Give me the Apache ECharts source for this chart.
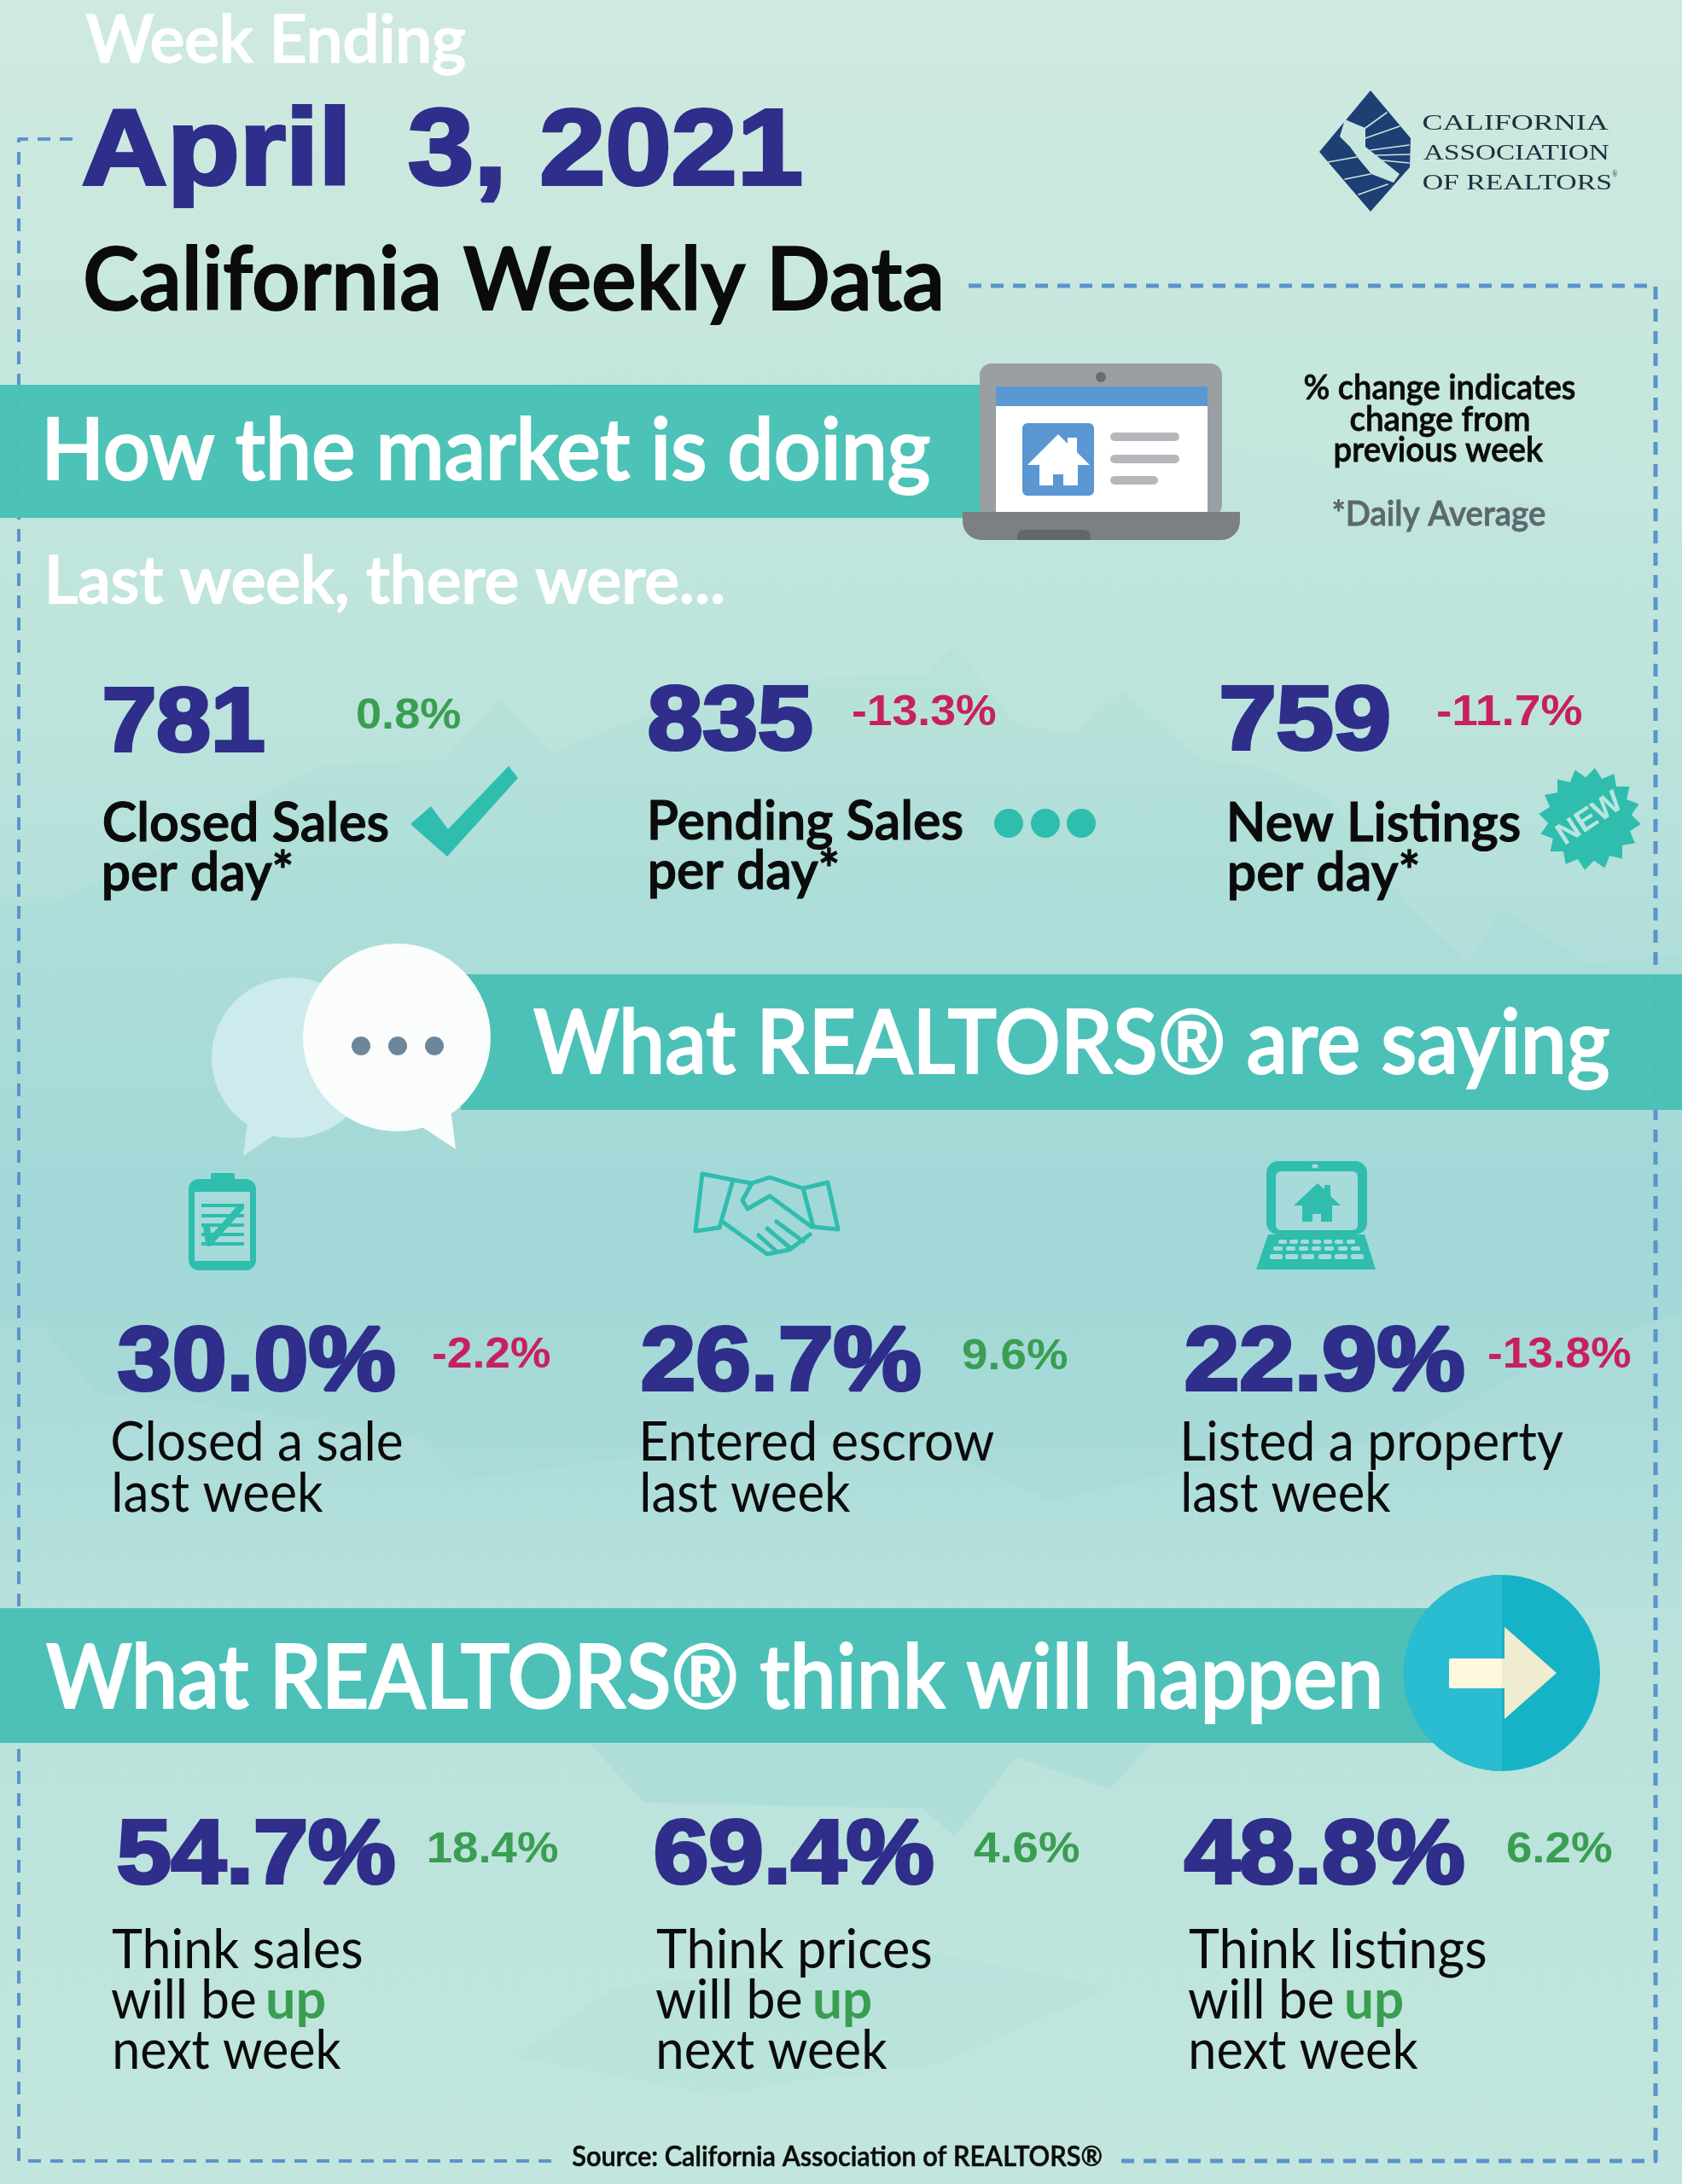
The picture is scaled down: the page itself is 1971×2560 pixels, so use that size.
<!DOCTYPE html>
<html>
<head>
<meta charset="utf-8">
<title>California Weekly Data</title>
<script src="https://cdn.jsdelivr.net/npm/echarts@6/dist/echarts.min.js"></script>
<style>
    html, body { margin: 0; padding: 0; background: #c6e7de; }
    #chart { width: 1971px; height: 2560px; }
</style>
</head>
<body>
<div id="chart"></div>
<script>
// Values
var marketValues   = [781, 835, 759];
var marketChanges  = [0.8, -13.3, -11.7];
var marketLabels   = [['Closed Sales', 'per day*'], ['Pending Sales', 'per day*'], ['New Listings', 'per day*']];
var sayingValues   = [30.0, 26.7, 22.9];
var sayingChanges  = [-2.2, 9.6, -13.8];
var sayingLabels   = [['Closed a sale', 'last week'], ['Entered escrow', 'last week'], ['Listed a property', 'last week']];
var thinkValues    = [54.7, 69.4, 48.8];
var thinkChanges   = [18.4, 4.6, 6.2];
var thinkLabels    = ['Think sales', 'Think prices', 'Think listings'];

// Where each text sits: [left ink, right ink, baseline]
var marketValueBox  = [[122, 310, 880], [760, 952, 878], [1431, 1628, 878]];
var marketChangeBox = [[418, 540, 854], [999, 1167, 850], [1684, 1854, 850]];
var marketLabelBox  = [[[121, 455, 986], [122, 342, 1044]],
                       [[762, 1128, 984], [762, 982, 1042]],
                       [[1441, 1781, 986], [1441, 1662, 1044]]];
var sayingValueBox  = [[138, 463, 1629], [752, 1079, 1629], [1389, 1716, 1629]];
var sayingChangeBox = [[507, 645, 1603], [1128, 1251, 1605], [1744, 1911, 1603]];
var sayingLabelBox  = [[[132, 471, 1712], [134, 379, 1772]],
                       [[753, 1165, 1712], [753, 997, 1772]],
                       [[1387, 1832, 1712], [1387, 1630, 1772]]];
var thinkValueBox   = [[138, 463, 2207], [767, 1094, 2207], [1387, 1716, 2207]];
var thinkChangeBox  = [[503, 654, 2183], [1141, 1265, 2183], [1766, 1889, 2183]];
var thinkLineBox    = [[[131, 424, 2307], [131, 299, 2366], [314, 381, 2366], [135, 400, 2425]],
                       [[769, 1091, 2307], [769, 939, 2366], [955, 1021, 2366], [772, 1040, 2425]],
                       [[1393, 1741, 2307], [1393, 1562, 2366], [1578, 1644, 2366], [1396, 1662, 2425]]];

var NAVY = '#2f2e8b', GREEN = '#3a9e52', RED = '#c8205f', TEAL = '#2fbdae', BANNER = 'rgba(73,192,182,0.97)';
var LATO = 'Lato, "Noto Sans", sans-serif';
var HEAVY = '"Liberation Sans", Arial, sans-serif';

var measure = document.createElement('canvas').getContext('2d');
var els = [];

// Places a string so its ink runs from x0 to x1 and it stands on the baseline.
function fit(text, x0, x1, baseline, font, fill, strokeW) {
    var w = strokeW || 0;
    measure.font = font;
    measure.textBaseline = 'alphabetic';
    var m = measure.measureText(text);
    var ink = m.actualBoundingBoxRight + m.actualBoundingBoxLeft;
    var sx = (x1 - x0 - w) / ink;
    measure.textBaseline = 'middle';
    var drop = measure.measureText('H').actualBoundingBoxDescent;
    els.push({
        type: 'text', silent: true,
        x: x0 + w / 2 + m.actualBoundingBoxLeft * sx,
        y: baseline - drop,
        scaleX: sx,
        style: {
            text: text, font: font, fill: fill, align: 'left', verticalAlign: 'middle',
            stroke: w ? fill : null, lineWidth: w
        }
    });
}

function poly(points, fill) {
    els.push({ type: 'polygon', silent: true, shape: { points: points }, style: { fill: fill } });
}
function line(points, stroke, width, dash, smooth) {
    els.push({
        type: 'polyline', silent: true,
        shape: { points: points, smooth: smooth || 0 },
        style: { stroke: stroke, lineWidth: width, fill: 'none', lineDash: dash || null, lineCap: dash ? 'butt' : 'round', lineJoin: 'round' }
    });
}
function rect(x, y, w, h, fill, r) {
    els.push({ type: 'rect', silent: true, shape: { x: x, y: y, width: w, height: h, r: r || 0 }, style: { fill: fill } });
}
function circle(cx, cy, r, fill) {
    els.push({ type: 'circle', silent: true, shape: { cx: cx, cy: cy, r: r }, style: { fill: fill } });
}

function drawBackground() {
    els.push({
        type: 'rect', silent: true,
        shape: { x: 0, y: 0, width: 1971, height: 2560 },
        style: {
            fill: new echarts.graphic.LinearGradient(0, 0, 0, 1, [
                { offset: 0,    color: '#cfe9df' },
                { offset: 0.17, color: '#c6e7de' },
                { offset: 0.32, color: '#bfe5dd' },
                { offset: 0.43, color: '#b4e0dc' },
                { offset: 0.56, color: '#a7dbdb' },
                { offset: 0.66, color: '#aedddb' },
                { offset: 0.74, color: '#bae3dc' },
                { offset: 0.85, color: '#bfe5dd' },
                { offset: 1,    color: '#c4e7de' }
            ])
        }
    });
    var tint = 'rgba(110,200,205,0.08)';
    poly([[0, 470], [600, 470], [760, 402], [850, 450], [980, 386], [1106, 386], [1170, 460], [1450, 530], [1700, 560],
          [1971, 640], [1971, 2560], [0, 2560]], 'rgba(150,215,210,0.05)');
    poly([[0, 1060], [60, 1060], [377, 898], [520, 890], [585, 819], [647, 882], [860, 800], [1085, 790], [1119, 755],
          [1190, 850], [1260, 860], [1314, 809], [1408, 890], [1480, 900], [1559, 937], [1650, 1060], [1720, 1130],
          [1760, 1064], [1860, 1130], [1971, 1120], [1971, 1538], [1800, 1600], [1647, 1684], [1400, 1720], [1232, 1759],
          [1100, 1700], [993, 1680], [800, 1700], [540, 1735], [490, 1684], [226, 1644], [113, 1633], [50, 1555], [0, 1555]], tint);
    poly([[691, 2044], [754, 2113], [1081, 2120], [1119, 2153], [1190, 2060], [1300, 2097], [1350, 2044]], 'rgba(110,200,205,0.16)');
    poly([[603, 2410], [720, 2330], [1100, 2290], [1300, 2330], [1100, 2420], [930, 2440], [842, 2457]], 'rgba(110,200,205,0.06)');
}

function drawFrame() {
    var c = '#5b93cc', d = [15, 11];
    line([[85, 163], [22, 163], [22, 2533], [647, 2533]], c, 4, d);
    line([[1135, 335], [1940, 335], [1940, 2533], [1307, 2533]], c, 5, d);
}

function drawLaptop() {
    rect(1148, 426, 284, 180, '#9a9fa3', 14);
    rect(1167, 453, 248, 150, '#ffffff');
    rect(1167, 453, 248, 23, '#5b97d3');
    circle(1290, 442, 6, '#676c70');
    rect(1198, 496, 84, 85, '#5b97d3', 6);
    poly([[1240, 509], [1251, 520], [1251, 513], [1262, 513], [1262, 530], [1277, 545], [1263, 545], [1263, 569],
          [1246, 569], [1246, 556], [1234, 556], [1234, 569], [1218, 569], [1218, 545], [1204, 545]], '#ffffff');
    rect(1301, 507, 81, 10, '#b4b8bd', 5);
    rect(1301, 533, 81, 10, '#b4b8bd', 5);
    rect(1301, 558, 56, 10, '#b4b8bd', 5);
    els.push({ type: 'rect', silent: true, shape: { x: 1128, y: 600, width: 325, height: 33, r: [0, 0, 22, 22] }, style: { fill: '#7b8084' } });
    els.push({ type: 'rect', silent: true, shape: { x: 1192, y: 621, width: 86, height: 12, r: [8, 8, 0, 0] }, style: { fill: '#62676b' } });
}

function drawLogo() {
    var blue = '#1d3f73', bg = '#c7e7de';
    poly([[1606, 106], [1653, 162], [1652, 196], [1636, 214], [1606, 248], [1546, 178]], blue);
    // California as a thin light band between the left blocks and the fan
    poly([[1576, 140], [1590, 146], [1600, 150], [1600, 172], [1640, 204], [1633, 214], [1607, 204], [1592, 186],
          [1582, 172], [1570, 160]], bg);
    var gaps = [[[1600, 150], [1625, 132]], [[1600, 162], [1640, 148]], [[1606, 176], [1651, 170]], [[1612, 182], [1652, 181]],
                [[1620, 188], [1651, 191]], [[1556, 190], [1590, 184]], [[1576, 210], [1606, 204]], [[1592, 228], [1626, 216]]];
    gaps.forEach(function (g) { line(g, bg, 1.6); });
    var serif = '26px "Liberation Serif", serif';
    fit('CALIFORNIA', 1668, 1885, 152, serif, '#20303f');
    fit('ASSOCIATION', 1668, 1886, 187, serif, '#20303f');
    fit('OF REALTORS', 1668, 1887, 222, serif, '#20303f');
    fit('®', 1889, 1896, 207, '10px "Liberation Serif", serif', '#20303f');
}

function drawBubbles() {
    circle(342, 1240, 94, '#cdebec');
    poly([[290, 1315], [285, 1355], [322, 1330]], '#cdebec');
    circle(465, 1216, 110, '#fbfcfc');
    poly([[528, 1300], [534, 1347], [490, 1318]], '#fbfcfc');
    [423, 466, 509].forEach(function (x) { circle(x, 1226, 11, '#6c8799'); });
}

function drawBurst() {
    // 16 point seal behind the NEW lettering
    var pts = [], spikes = 16;
    for (var i = 0; i < spikes * 2; i++) {
        var a = i * Math.PI / spikes - Math.PI / 2 + Math.PI / spikes / 2;
        var r = i % 2 ? 49 : 60;
        pts.push([1863 + r * Math.cos(a), 960 + r * Math.sin(a)]);
    }
    poly(pts, TEAL);
    els.push({
        type: 'text', silent: true, x: 1863, y: 960, rotation: 0.58,
        style: { text: 'NEW', font: 'bold 36px "Liberation Sans", sans-serif', fill: '#b8e6de', align: 'center', verticalAlign: 'middle' }
    });
}

function drawIcons() {
    // check mark and three dots of the first row
    poly([[481, 966], [505, 945], [525, 972], [596, 898], [607, 912], [524, 1004]], TEAL);
    [1182, 1225, 1267].forEach(function (x) { circle(x, 965, 17, TEAL); });
    drawBurst();

    // clipboard
    rect(221, 1382, 79, 107, TEAL, 12);
    rect(228, 1397, 65, 81, '#a6dadb');
    rect(247, 1375, 28, 22, TEAL, 2);
    [1413, 1425, 1436, 1447, 1458].forEach(function (y) { rect(236, y - 2, 50, 4, TEAL); });
    line([[242, 1438], [245, 1457], [282, 1415]], TEAL, 8);

    // handshake
    var w = 5;
    line([[823, 1376], [859, 1383], [843, 1439], [815, 1443], [823, 1376]], TEAL, w);
    line([[941, 1393], [970, 1386], [982, 1441], [953, 1438], [941, 1393]], TEAL, w);
    line([[859, 1383], [881, 1387], [902, 1380], [941, 1393]], TEAL, w);
    line([[881, 1387], [870, 1407], [876, 1417], [902, 1402], [951, 1438]], TEAL, w);
    line([[848, 1433], [899, 1470], [925, 1465], [949, 1447]], TEAL, w);
    line([[910, 1432], [941, 1455]], TEAL, w);
    line([[899, 1440], [925, 1462]], TEAL, w);
    line([[889, 1448], [910, 1467]], TEAL, w);

    // small laptop
    rect(1484, 1361, 118, 86, TEAL, 14);
    rect(1495, 1373, 96, 69, '#a6dadb', 6);
    els.push({ type: 'ellipse', silent: true, shape: { cx: 1541, cy: 1367, rx: 4, ry: 2.5 }, style: { fill: '#a6dadb' } });
    poly([[1486, 1447], [1599, 1447], [1612, 1488], [1472, 1488]], TEAL);
    poly([[1544, 1387], [1552, 1394], [1552, 1389], [1559, 1389], [1559, 1402], [1571, 1413], [1561, 1413], [1561, 1432],
          [1548, 1432], [1548, 1423], [1538, 1423], [1538, 1432], [1526, 1432], [1526, 1413], [1516, 1413]], TEAL);
    [1503, 1516, 1529, 1543, 1556, 1569, 1583].forEach(function (x) { rect(x - 5, 1453, 10, 5, '#a6dadb', 2); });
    [1497, 1512, 1527, 1542, 1557, 1573, 1588].forEach(function (x) { rect(x - 5, 1461, 11, 5, '#a6dadb', 2); });
    [1495, 1513, 1532, 1552, 1571, 1590].forEach(function (x) { rect(x - 7, 1470, 15, 6, '#a6dadb', 2); });
}

function drawArrow() {
    circle(1760, 1961, 115, '#16b3c6');
    els.push({
        type: 'sector', silent: true,
        shape: { cx: 1760, cy: 1961, r: 115, startAngle: Math.PI / 2, endAngle: Math.PI * 1.5 },
        style: { fill: '#2abcd1' }
    });
    rect(1698, 1944, 62, 35, '#fef8dc', 2);
    poly([[1760, 1944], [1763, 1944], [1763, 1907], [1824, 1961], [1763, 2015], [1763, 1979], [1760, 1979]], '#efecd0');
}

function drawText() {
    var semi = '600 64px ' + LATO, reg = '400 64px ' + LATO;
    var big = '900 105px ' + HEAVY, small = '900 50px ' + HEAVY;

    fit('Week Ending', 100, 546, 73, '600 76px ' + LATO, '#ffffff', 1.6);
    fit('April\u2009 3, 2021', 97, 940, 216, '900 127px ' + HEAVY, NAVY, 4);
    fit('California Weekly Data', 100, 1103, 363, '600 102px ' + LATO, '#0b0b0b', 2);
    fit('How the market is doing', 55, 1090, 562, '600 100px ' + LATO, '#ffffff', 2);
    fit('Last week, there were...', 57, 848, 707, '600 76px ' + LATO, '#ffffff', 1.6);
    fit('% change indicates', 1528, 1846, 468, '600 41px ' + LATO, '#0b0b0b', 0.8);
    fit('change from', 1582, 1792, 505, '600 41px ' + LATO, '#0b0b0b', 0.8);
    fit('previous week', 1564, 1809, 541, '600 41px ' + LATO, '#0b0b0b', 0.8);
    fit('*Daily Average', 1562, 1811, 616, '600 41px ' + LATO, '#5c686e', 0.8);
    fit('What REALTORS® are saying', 625, 1886, 1258, '600 104px ' + LATO, '#ffffff', 1.8);
    fit('What REALTORS® think will happen', 54, 1617, 2002, '600 104px ' + LATO, '#ffffff', 1.8);
    fit('Source: California Association of REALTORS®', 670, 1291, 2539, '600 33px ' + LATO, '#0b0b0b', 0.6);

    function changeColor(v) { return v < 0 ? RED : GREEN; }

    marketValues.forEach(function (v, i) {
        var b = marketValueBox[i], c = marketChangeBox[i];
        fit(String(v), b[0], b[1], b[2], big, NAVY, 4);
        fit(marketChanges[i].toFixed(1) + '%', c[0], c[1], c[2], small, changeColor(marketChanges[i]));
        fit(marketLabels[i][0], marketLabelBox[i][0][0], marketLabelBox[i][0][1], marketLabelBox[i][0][2], semi, '#0b0b0b', 1.2);
        fit(marketLabels[i][1], marketLabelBox[i][1][0], marketLabelBox[i][1][1], marketLabelBox[i][1][2], semi, '#0b0b0b', 1.2);
    });
    sayingValues.forEach(function (v, i) {
        var b = sayingValueBox[i], c = sayingChangeBox[i];
        fit(v.toFixed(1) + '%', b[0], b[1], b[2], big, NAVY, 4);
        fit(sayingChanges[i].toFixed(1) + '%', c[0], c[1], c[2], small, changeColor(sayingChanges[i]));
        fit(sayingLabels[i][0], sayingLabelBox[i][0][0], sayingLabelBox[i][0][1], sayingLabelBox[i][0][2], reg, '#0b0b0b');
        fit(sayingLabels[i][1], sayingLabelBox[i][1][0], sayingLabelBox[i][1][1], sayingLabelBox[i][1][2], reg, '#0b0b0b');
    });
    thinkValues.forEach(function (v, i) {
        var b = thinkValueBox[i], c = thinkChangeBox[i], l = thinkLineBox[i];
        fit(v.toFixed(1) + '%', b[0], b[1], b[2], big, NAVY, 4);
        fit(thinkChanges[i].toFixed(1) + '%', c[0], c[1], c[2], small, changeColor(thinkChanges[i]));
        fit(thinkLabels[i], l[0][0], l[0][1], l[0][2], reg, '#0b0b0b');
        fit('will be', l[1][0], l[1][1], l[1][2], reg, '#0b0b0b');
        fit('up', l[2][0], l[2][1], l[2][2], '700 64px ' + LATO, GREEN);
        fit('next week', l[3][0], l[3][1], l[3][2], reg, '#0b0b0b');
    });
}

drawBackground();
drawFrame();
rect(0, 451, 1160, 156, BANNER);
rect(540, 1142, 1431, 159, BANNER);
rect(0, 1885, 1700, 158, BANNER);
drawLaptop();
drawLogo();
drawBubbles();
drawIcons();
drawArrow();
drawText();

var chart = echarts.init(document.getElementById('chart'), null, { renderer: 'canvas', width: 1971, height: 2560 });
chart.setOption({ animation: false, graphic: { elements: els } });
</script>
</body>
</html>
